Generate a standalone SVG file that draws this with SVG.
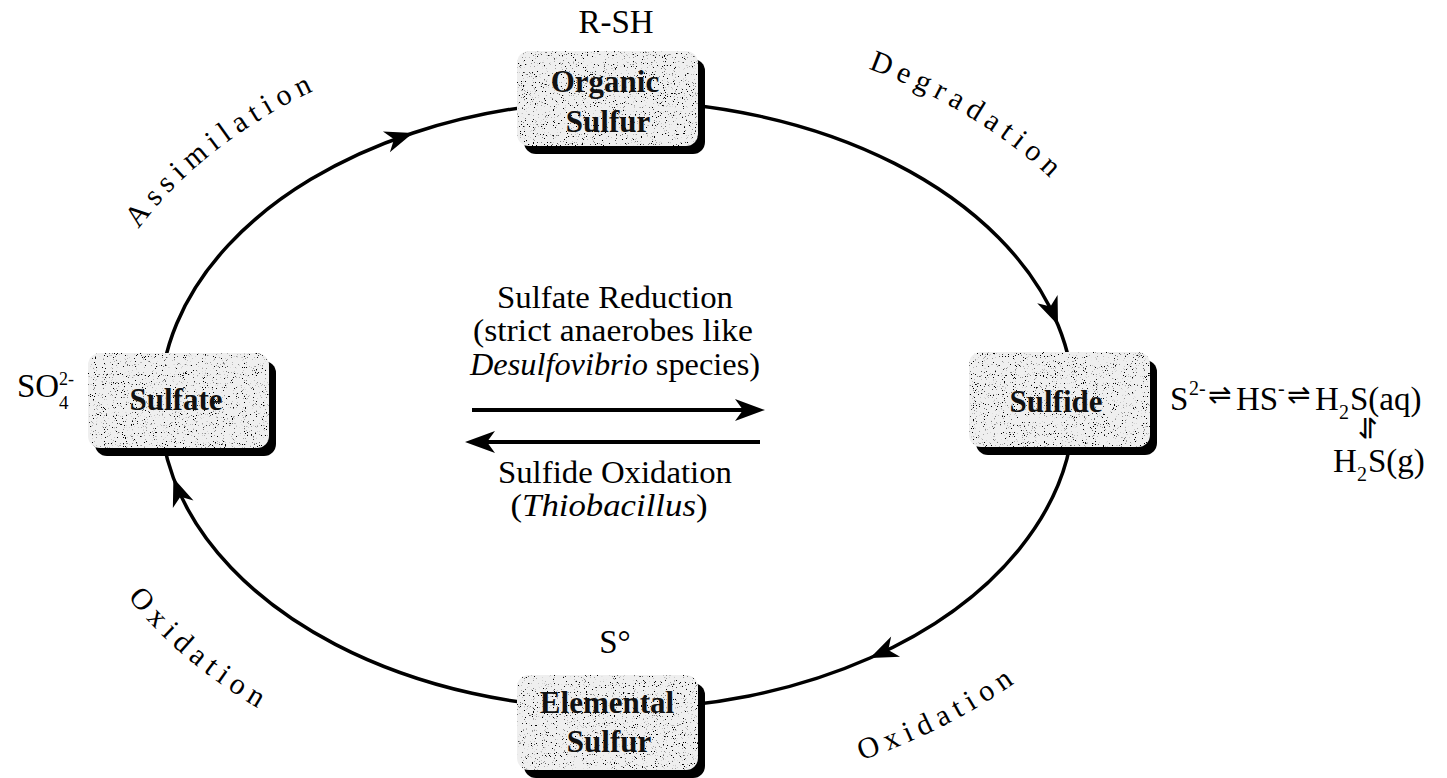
<svg xmlns="http://www.w3.org/2000/svg" width="1447" height="778" viewBox="0 0 1447 778">
  <style>
    .serif { font-family: "Liberation Serif", "Times New Roman", serif; fill: #000; }
    .node-text { font-family: "Liberation Serif", "Times New Roman", serif; font-weight: bold; font-size: 31px; fill: #111; text-anchor: middle; }
    .formula { font-family: "Liberation Serif", "Times New Roman", serif; font-size: 33px; fill: #000; }
    .center-text { font-family: "Liberation Serif", "Times New Roman", serif; font-size: 32px; fill: #000; text-anchor: middle; }
    .arc-label { font-family: "Liberation Serif", "Times New Roman", serif; font-size: 30px; letter-spacing: 6.5px; fill: #000; text-anchor: middle; }
    .eq { font-family: "DejaVu Sans", sans-serif; font-size: 28px; fill: #000; }
    .face { fill: #efefef; filter: url(#grain); }
    .shadow { fill: #000; }
    .cycle { fill: none; stroke: #000; stroke-width: 3.5; marker-mid: url(#head); }
    .flux { fill: none; stroke: #000; stroke-width: 4; marker-end: url(#head-ahead); }
  </style>
  <defs>
    <!-- stippled fill for the rounded node boxes -->
    <filter id="grain" x="0" y="0" width="1" height="1">
      <feTurbulence type="fractalNoise" baseFrequency="0.9" numOctaves="2" seed="7" result="noise"/>
      <feColorMatrix in="noise" type="matrix" values="0 0 0 0 0  0 0 0 0 0  0 0 0 0 0  12 0 0 0 -7.7" result="dots"/>
      <feComposite in="dots" in2="SourceAlpha" operator="in" result="speck"/>
      <feMerge>
        <feMergeNode in="SourceGraphic"/>
        <feMergeNode in="speck"/>
      </feMerge>
    </filter>
    <marker id="head" markerUnits="userSpaceOnUse" viewBox="-32 -12 36 24" markerWidth="36" markerHeight="24" refX="0" refY="0" orient="auto" overflow="visible">
      <path d="M0,0 L-28,-11 L-20,0 L-28,11 Z" fill="#000"/>
    </marker>
    <marker id="head-ahead" markerUnits="userSpaceOnUse" viewBox="-32 -12 36 24" markerWidth="36" markerHeight="24" refX="-6" refY="0" orient="auto" overflow="visible">
      <path d="M0,0 L-30,-11 L-22,0 L-30,11 Z" fill="#000"/>
    </marker>
    <!-- baselines for the curved process labels -->
    <path id="p-assim" d="M 79.1 371.9 A 540 380 0 0 1 523.2 30.8"/>
    <path id="p-degr" d="M 664.1 26.4 A 540 380 0 0 1 1138.6 306.6"/>
    <path id="p-oxl" d="M 59.1 439.4 A 560 395 0 0 0 491 789.9"/>
    <path id="p-oxr" d="M 607.2 799.9 A 560 395 0 0 0 1146.5 533.6"/>
  </defs>

  <rect width="1447" height="778" fill="#fff"/>

  <!-- cycle connectors (ellipse centre 617,405; radii 457 x 304) -->
  <g id="connectors">
    <path id="assimilation" class="cycle" d="M 160 405 A 457 304 0 0 1 413 133 A 457 304 0 0 1 617 101"/>
    <path id="degradation" class="cycle" d="M 617 101 A 457 304 0 0 1 1058 325 A 457 304 0 0 1 1074 405"/>
    <path id="oxidation-right" class="cycle" d="M 1074 405 A 457 304 0 0 1 870 658 A 457 304 0 0 1 617 709"/>
    <path id="oxidation-left" class="cycle" d="M 617 709 A 457 304 0 0 1 173.4 478 A 457 304 0 0 1 160 405"/>
    <path id="sulfate-reduction" class="flux" d="M 472 410 L 759 410"/>
    <path id="sulfide-oxidation" class="flux" d="M 760 442 L 471 442"/>
  </g>

  <!-- process labels -->
  <g id="labels">
    <text class="arc-label"><textPath href="#p-assim" startOffset="45.3%">Assimilation</textPath></text>
    <text class="arc-label"><textPath href="#p-degr" startOffset="55%">Degradation</textPath></text>
    <text class="arc-label"><textPath href="#p-oxl" startOffset="44.3%">Oxidation</textPath></text>
    <text class="arc-label"><textPath href="#p-oxr" startOffset="55%">Oxidation</textPath></text>

    <text class="center-text" x="615" y="308" textLength="236" lengthAdjust="spacingAndGlyphs">Sulfate Reduction</text>
    <text class="center-text" x="613" y="341" textLength="280" lengthAdjust="spacingAndGlyphs">(strict anaerobes like</text>
    <text class="center-text" x="615" y="375" textLength="290" lengthAdjust="spacingAndGlyphs"><tspan font-style="italic">Desulfovibrio</tspan> species)</text>
    <text class="center-text" x="615" y="483" textLength="234" lengthAdjust="spacingAndGlyphs">Sulfide Oxidation</text>
    <text class="center-text" x="609" y="516" textLength="197" lengthAdjust="spacingAndGlyphs">(<tspan font-style="italic">Thiobacillus</tspan>)</text>
  </g>

  <!-- nodes -->
  <g id="organic-sulfur">
    <rect class="shadow" x="524" y="59" width="181" height="95" rx="12"/>
    <rect class="face" x="517" y="51" width="181" height="95" rx="12"/>
    <text class="node-text" x="605" y="92">Organic</text>
    <text class="node-text" x="608" y="132">Sulfur</text>
    <text class="formula" x="616" y="33" text-anchor="middle" font-size="32">R-SH</text>
  </g>

  <g id="sulfate">
    <rect class="shadow" x="95" y="361" width="181" height="95" rx="12"/>
    <rect class="face" x="88" y="353" width="181" height="95" rx="12"/>
    <text class="node-text" x="176" y="410">Sulfate</text>
    <text class="formula" x="17" y="397" font-size="32">SO</text>
    <text class="serif" x="59" y="385" font-size="18">2-</text>
    <text class="serif" x="59" y="409" font-size="19">4</text>
  </g>

  <g id="sulfide">
    <rect class="shadow" x="976" y="360" width="181" height="95" rx="12"/>
    <rect class="face" x="969" y="352" width="181" height="95" rx="12"/>
    <text class="node-text" x="1056" y="412">Sulfide</text>
    <text class="formula" x="1170" y="410">S</text>
    <text class="serif" x="1189" y="395" font-size="20">2-</text>
    <text class="eq" x="1208" y="404">⇌</text>
    <text class="formula" x="1236" y="410">HS</text>
    <text class="serif" x="1278" y="395" font-size="20">-</text>
    <text class="eq" x="1287" y="404">⇌</text>
    <text class="formula" x="1315" y="410">H</text>
    <text class="serif" x="1339" y="419" font-size="20">2</text>
    <text class="formula" x="1350" y="410">S(aq)</text>
    <text class="eq" x="1367" y="436" font-size="22" text-anchor="middle" transform="rotate(90 1367 428)">⇋</text>
    <text class="formula" x="1333" y="472">H</text>
    <text class="serif" x="1357" y="481" font-size="20">2</text>
    <text class="formula" x="1368" y="472">S(g)</text>
  </g>

  <g id="elemental-sulfur">
    <rect class="shadow" x="524" y="683" width="181" height="95" rx="12"/>
    <rect class="face" x="517" y="675" width="181" height="95" rx="12"/>
    <text class="node-text" x="607" y="713">Elemental</text>
    <text class="node-text" x="609" y="752">Sulfur</text>
    <text class="formula" x="615" y="653" text-anchor="middle" font-size="32">S°</text>
  </g>
</svg>
